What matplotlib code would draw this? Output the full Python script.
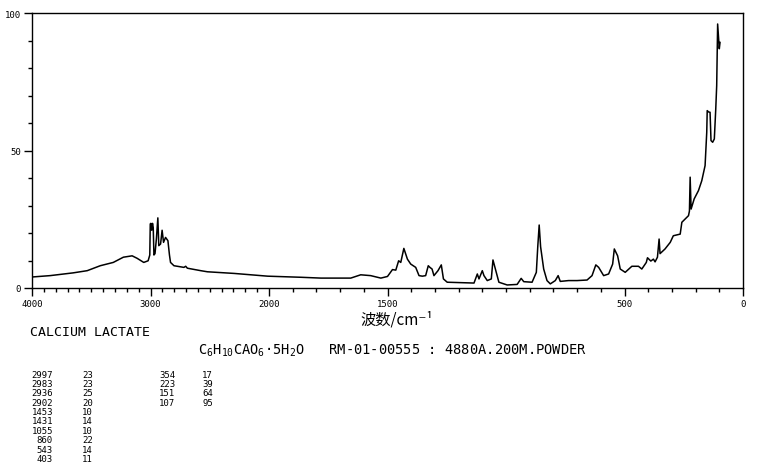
import numpy as np
import matplotlib
matplotlib.use('Agg')
import matplotlib.pyplot as plt
from matplotlib.ticker import FixedLocator, FixedFormatter

plt.rcParams['mathtext.fontset'] = 'custom'
plt.rcParams['mathtext.rm'] = 'DejaVu Sans Mono'
plt.rcParams['mathtext.it'] = 'DejaVu Sans Mono'

# traced spectrum (wavenumber cm-1, relative intensity)
wavenumber = [4000, 3847, 3653, 3534, 3424, 3314, 3229, 3155, 3113, 3057, 3020,
              3006, 3002, 2997, 2990, 2983, 2977, 2971, 2962, 2950, 2938, 2930,
              2915, 2902, 2890, 2873, 2853, 2840, 2831, 2802, 2718, 2703, 2689,
              2576, 2520, 2294, 2011, 1865, 1781, 1669, 1655, 1613, 1571, 1528,
              1500, 1479, 1465, 1453, 1444, 1431, 1416, 1402, 1381, 1367, 1353,
              1339, 1328, 1321, 1312, 1304, 1287, 1273, 1264, 1248, 1135, 1121,
              1114, 1100, 1093, 1079, 1062, 1055, 1041, 1030, 995, 953, 936, 925,
              890, 872, 866, 860, 854, 841, 827, 813, 792, 780, 771, 736, 700,
              658, 637, 621, 609, 588, 567, 550, 543, 529, 518, 497, 469, 441,
              427, 408, 403, 389, 378, 371, 361, 354, 350, 329, 307, 294, 265,
              258, 230, 226, 223, 219, 206, 188, 174, 160, 153, 151, 145, 139,
              135, 128, 121, 115, 111, 107, 100, 97]
intensity = [4.0, 4.5, 5.5, 6.3, 8.1, 9.3, 11.2, 11.7, 10.8, 9.3, 9.9,
             12.0, 23.3, 23.5, 21.0, 23.5, 22.0, 12.0, 12.5, 18.0, 25.5, 15.4,
             16.0, 21.0, 16.6, 18.4, 17.2, 12.0, 9.3, 8.1, 7.5, 7.9, 7.2,
             6.3, 5.9, 5.3, 4.3, 3.9, 3.6, 3.6, 3.6, 4.8, 4.5, 3.6,
             4.2, 6.7, 6.5, 9.9, 9.3, 14.4, 10.5, 8.7, 7.5, 4.5, 4.3,
             4.5, 8.1, 7.5, 6.9, 4.5, 6.3, 8.4, 3.3, 2.1, 1.8, 5.1,
             3.3, 6.3, 4.5, 2.7, 3.3, 10.2, 5.7, 2.1, 1.1, 1.3, 3.5, 2.3,
             2.1, 5.7, 15.0, 22.9, 15.0, 6.9, 2.7, 1.5, 2.7, 4.5, 2.4, 2.7, 2.7,
             2.9, 4.5, 8.4, 7.5, 4.5, 5.1, 8.7, 14.2, 11.7, 6.9, 5.7, 7.9, 7.9,
             6.9, 9.3, 11.0, 9.8, 10.5, 9.5, 11.2, 17.8, 12.5, 14.2, 16.6, 19.0, 19.6,
             23.9, 26.3, 28.0, 40.3, 28.7, 32.4, 35.4, 39.0, 44.5, 56.6, 64.5, 64.0, 63.9,
             53.6, 53.0, 54.2, 65.0, 73.6, 96.0, 87.0, 89.3]

x_major = [4000, 3000, 2000, 1500, 500, 0]
x_labels = ['4000', '3000', '2000', '1500', '500', '0']
y_major = [0, 50, 100]

name = 'CALCIUM LACTATE'
formula = r'C$_6$H$_{10}$CAO$_6$·5H$_2$O   RM-01-00555 : 4880A.200M.POWDER'
peak_wn = ['2997', '2983', '2936', '2902', '1453', '1431', '1055', '860', '543', '403',
           '354', '223', '151', '107']
peak_int = ['23', '23', '25', '20', '10', '14', '10', '22', '14', '11',
            '17', '39', '64', '95']


def fwd(w):
    w = np.asarray(w, dtype=float)
    return np.where(w >= 2000, 2000 + (w - 2000) / 2, w)


def inv(u):
    u = np.asarray(u, dtype=float)
    return np.where(u >= 2000, 2000 + (u - 2000) * 2, u)


fig = plt.figure(figsize=(7.61, 4.77), dpi=100)
ax = fig.add_axes([32 / 761, 1 - 289 / 477, 711 / 761, 275 / 477])
ax.set_xscale('function', functions=(fwd, inv))
ax.plot(wavenumber, intensity, color='black', lw=1.1)
ax.set_xlim(4000, 0)
ax.set_ylim(0, 100)

ax.xaxis.set_major_locator(FixedLocator(x_major))
ax.xaxis.set_major_formatter(FixedFormatter(x_labels))
ax.xaxis.set_minor_locator(FixedLocator(np.arange(0, 4001, 100)))
ax.yaxis.set_major_locator(FixedLocator(y_major))
ax.yaxis.set_minor_locator(FixedLocator(np.arange(0, 101, 10)))
ax.tick_params(which='major', direction='out', length=6, width=1, labelsize=6.5, pad=2)
ax.tick_params(which='minor', direction='out', length=3, width=1)
for lab in ax.get_xticklabels() + ax.get_yticklabels():
    lab.set_family('DejaVu Sans Mono')
for s in ax.spines.values():
    s.set_linewidth(1.0)

fig.text(397 / 761, 1 - 320 / 477, '波数/cm⁻¹', family=['Noto Sans CJK SC', 'DejaVu Sans'],
         fontsize=11, ha='center', va='center')
fig.text(30 / 761, 1 - 333 / 477, name, family='DejaVu Sans Mono', fontsize=9.5,
         ha='left', va='center')
fig.text(198 / 761, 1 - 351 / 477, formula, family='DejaVu Sans Mono', fontsize=9.9,
         ha='left', va='center')

# peak table, two column pairs
row_y = 375
for i in range(len(peak_wn)):
    col = i // 10
    r = i % 10
    y = 1 - (row_y + r * 9.4) / 477
    fig.text((53 + col * 122) / 761, y, peak_wn[i], family='DejaVu Sans Mono',
             fontsize=6.5, ha='right', va='center')
    fig.text((93 + col * 120) / 761, y, peak_int[i], family='DejaVu Sans Mono',
             fontsize=6.5, ha='right', va='center')

fig.savefig('out.png', dpi=100)
